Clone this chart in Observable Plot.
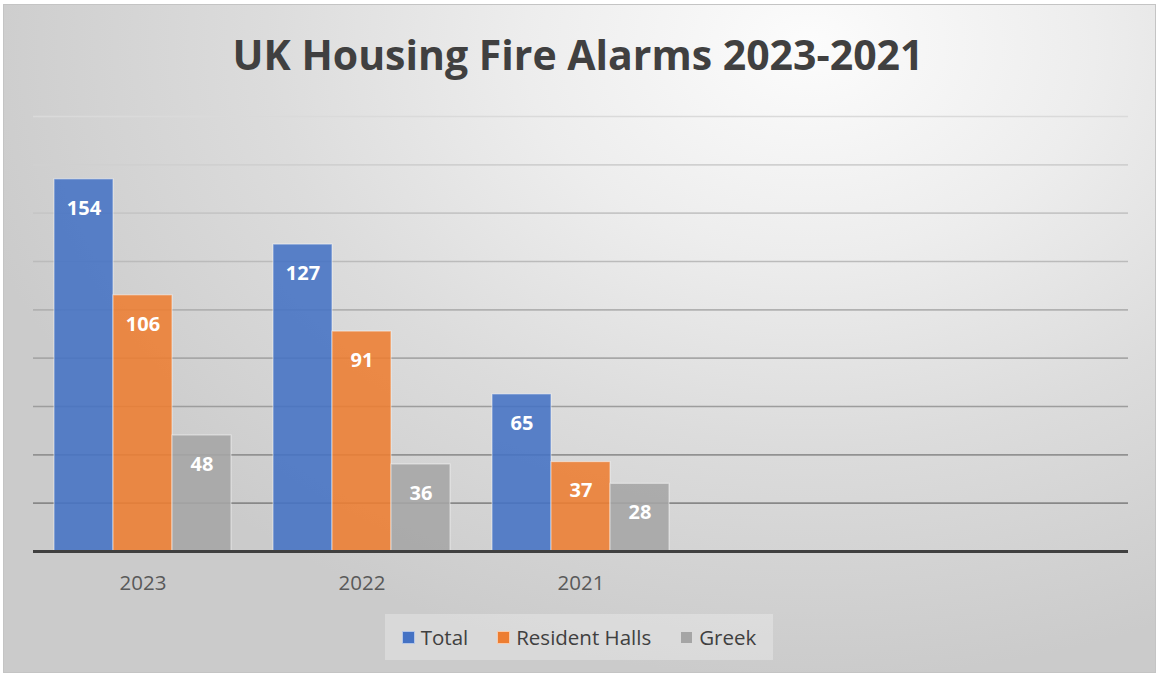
<!DOCTYPE html>
<html><head><meta charset="utf-8">
<script src="https://cdn.jsdelivr.net/npm/d3@7"></script>
<script src="https://cdn.jsdelivr.net/npm/@observablehq/plot@0.6"></script>
<style>
html,body{margin:0;padding:0;background:#fff;width:1156px;height:675px;overflow:hidden;font-family:"Open Sans",sans-serif;}
#frame{position:absolute;left:3px;top:4px;width:1153px;height:669px;box-sizing:border-box;border:1px solid #c4c4c4;
 background:radial-gradient(ellipse 75% 95% at 70% 6%, #fcfcfc 0%, #ededed 33%, #dcdcdc 63%, #cbcbcb 100%);}
#title{position:absolute;left:0;top:24px;width:1156px;text-align:center;font-size:41px;line-height:60px;font-weight:700;color:#404040;}
.layer{position:absolute;left:0;top:90px;}
#legend{position:absolute;left:385px;top:614px;width:388px;height:46px;background:rgba(255,255,255,0.28);display:flex;align-items:center;justify-content:center;gap:29px;font-size:20.5px;color:#404040;}
#legend .item{display:flex;align-items:center;gap:6px;}
#legend .sw{width:13px;height:13px;box-sizing:border-box;border:1px solid rgba(255,255,255,0.6);}
</style></head>
<body>
<div id="frame"></div>
<div id="title">UK Housing Fire Alarms 2023-2021</div>
<div id="grid" class="layer"></div>
<div id="bars" class="layer"></div>
<div id="base" class="layer"></div>
<div id="legend"></div>
<script>
const years = ["2023", "2022", "2021"];
const emptySlots = [" ", "  "];
const series = ["Total", "Resident Halls", "Greek"];
const total = [154, 127, 65];
const residentHalls = [106, 91, 37];
const greek = [48, 36, 28];
const colors = ["#4472c4", "#ed7d31", "#a5a5a5"];
const gridTicks = [20, 40, 60, 80, 100, 120, 140, 160, 180];
const yDomain = [0, 180];

const valuesBySeries = [total, residentHalls, greek];
const rows = [];
years.forEach((y, i) => series.forEach((s, j) => rows.push({year: y, series: s, value: valuesBySeries[j][i]})));
const colorOf = s => colors[series.indexOf(s)];
const gridColor = d3.interpolateRgb("#7e7e7e", "#dadada");

const frame = {
  width: 1156, height: 511,
  marginLeft: 33, marginRight: 28, marginTop: 26, marginBottom: 50,
  style: {background: "transparent", fontFamily: "Open Sans", overflow: "visible"}
};

// gridlines layer (spans the whole plot area, including empty category slots)
const gridPlot = Plot.plot({
  ...frame,
  x: {domain: [0, 1], axis: null},
  y: {domain: yDomain, axis: null},
  color: {type: "identity"},
  marks: [
    Plot.ruleY(gridTicks, {y: d => d, stroke: d => gridColor(d / 180), strokeWidth: 1.6})
  ]
});
document.getElementById("grid").appendChild(gridPlot);

// bars layer
const barPlot = Plot.plot({
  ...frame,
  fx: {domain: years.concat(emptySlots), padding: 0, label: null},
  x: {domain: series, paddingInner: 0, paddingOuter: 0.334, axis: null},
  y: {domain: yDomain, axis: null},
  color: {type: "identity"},
  marks: [
    Plot.barY(rows, {fx: "year", x: "series", y: "value", fill: d => colorOf(d.series), fillOpacity: 0.88, stroke: "#ffffff", strokeOpacity: 0.45, strokeWidth: 1.2}),
    Plot.text(rows, {fx: "year", x: "series", y: "value", text: d => String(d.value), dy: 29, fill: "white", fontWeight: "bold", fontSize: 20}),
    Plot.axisFx({anchor: "bottom", tickSize: 0, tickPadding: 24, fontSize: 20.5, fill: "#595959", label: null})
  ]
});
document.getElementById("bars").appendChild(barPlot);

// baseline layer on top
const basePlot = Plot.plot({
  ...frame,
  x: {domain: [0, 1], axis: null},
  y: {domain: yDomain, axis: null},
  marks: [
    Plot.ruleY([0], {stroke: "#404040", strokeWidth: 3})
  ]
});
document.getElementById("base").appendChild(basePlot);

const legend = document.getElementById("legend");
series.forEach((s, i) => {
  const item = document.createElement("div");
  item.className = "item";
  const sw = document.createElement("span");
  sw.className = "sw";
  sw.style.background = colors[i];
  const label = document.createElement("span");
  label.textContent = s;
  item.appendChild(sw); item.appendChild(label);
  legend.appendChild(item);
});
</script>
</body></html>
